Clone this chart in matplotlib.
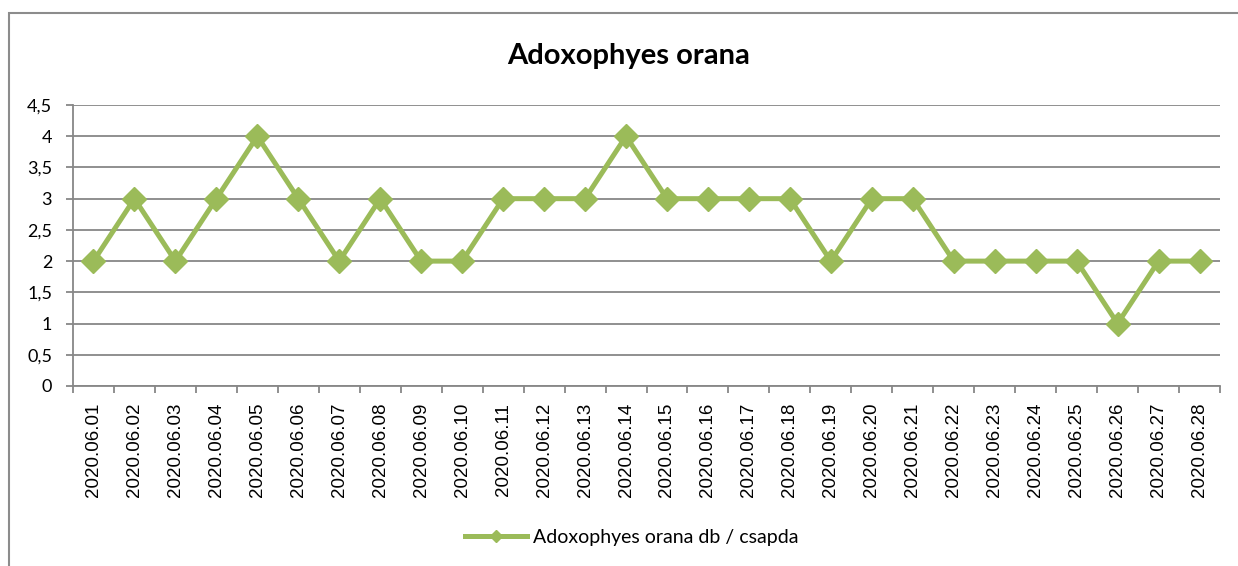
#!/usr/bin/env python3
import numpy as np
import matplotlib
matplotlib.use('Agg')
import matplotlib.pyplot as plt
from matplotlib.patches import Rectangle

dates = [f'2020.06.{d:02d}' for d in range(1, 29)]
counts = [2, 3, 2, 3, 4, 3, 2, 3, 2, 2, 3, 3, 3, 4, 3, 3, 3, 3, 2, 3, 3, 2, 2, 2, 2, 1, 2, 2]
y_ticks = [0, 0.5, 1, 1.5, 2, 2.5, 3, 3.5, 4, 4.5]
series_name = 'Adoxophyes orana db / csapda'
title = 'Adoxophyes orana'

W, H = 1238, 566
green = '#9BBB59'
grid_gray = '#878787'

fig = plt.figure(figsize=(W / 100, H / 100), dpi=100)

# chart border (cropped at right and bottom in the reference)
fig.patches.append(Rectangle((9 / W, -0.1), 1.2, (H - 13) / H + 0.1, transform=fig.transFigure,
                             fill=False, edgecolor='#8c8c8c', linewidth=1.5))

left, top, right, bottom = 73, 105, 1220, 386
ax = fig.add_axes([left / W, (H - bottom) / H, (right - left) / W, (bottom - top) / H])

x = np.arange(len(dates)) + 0.5
ax.plot(x, counts, color=green, linewidth=3.6, marker='D', markersize=12,
        markeredgecolor=green, label=series_name, zorder=3)

ax.set_xlim(0, len(dates))
ax.set_ylim(0, 4.5)
ax.set_yticks(y_ticks)
ax.set_yticklabels([f'{v:g}'.replace('.', ',') for v in y_ticks], fontfamily='Lato', fontsize=13)
ax.grid(axis='y', color=grid_gray, linewidth=1.3)
ax.set_axisbelow(True)

ax.set_xticks(np.arange(len(dates) + 1))
ax.set_xticklabels([])
ax.set_xticks(x, minor=True)
ax.set_xticklabels(dates, minor=True, rotation=90, fontfamily='Liberation Sans', fontsize=13.5)
ax.tick_params(axis='x', which='minor', length=0, pad=12)
ax.tick_params(axis='x', which='major', length=5, color=grid_gray, width=1.3)
ax.tick_params(axis='y', length=5, color=grid_gray, width=1.3, pad=10)

for s in ['top', 'right']:
    ax.spines[s].set_visible(False)
for s in ['left', 'bottom']:
    ax.spines[s].set_color(grid_gray)
    ax.spines[s].set_linewidth(1.3)

fig.text(629 / W, 1 - 56 / H, title, ha='center', va='center',
         fontfamily='Lato', fontweight='bold', fontsize=21)

fig.legend(loc='center', bbox_to_anchor=(632 / W, 1 - 537 / H), frameon=False,
           prop={'family': 'Lato', 'size': 14}, handlelength=3.2, handletextpad=0.3,
           markerscale=0.55)

fig.savefig('out.png', dpi=100)
